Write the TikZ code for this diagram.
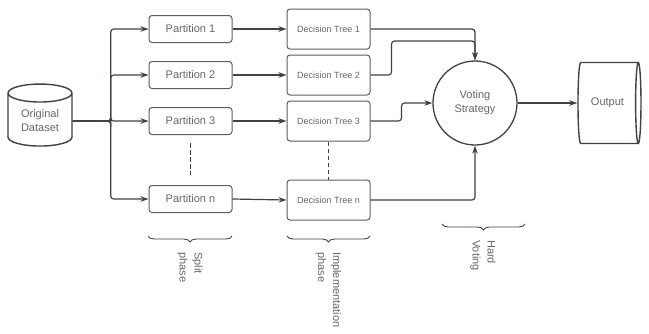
\documentclass[tikz,border=0pt]{standalone}
\usepackage{fontspec}
\setmainfont{Liberation Sans}
\usetikzlibrary{shapes.geometric,arrows.meta,positioning,decorations.pathreplacing}
\definecolor{linegray}{HTML}{3D414A}
\definecolor{txtgray}{HTML}{666666}

\begin{document}
\begin{tikzpicture}[
    x=1pt, y=-1pt,
    part/.style={rectangle, draw=linegray!85, rounded corners=3pt, line width=1pt,
                 minimum width=83pt, minimum height=27pt, inner sep=2pt,
                 font=\fontsize{11}{13}\selectfont, text=txtgray},
    tree/.style={part, minimum height=40pt, font=\fontsize{9}{11}\selectfont},
    store/.style={cylinder, draw=linegray, line width=1.4pt, aspect=0.45,
                  align=center, inner sep=1pt,
                  font=\fontsize{11}{14}\selectfont, text=txtgray},
    vote/.style={circle, draw=linegray, line width=1.3pt, minimum size=84pt,
                 align=center, inner sep=1pt,
                 font=\fontsize{11}{14}\selectfont, text=txtgray},
    arr/.style={-{Stealth[length=8pt,width=5.5pt]}, line width=1.2pt, linegray,
                rounded corners=3pt},
    link/.style={dash pattern=on 4.5pt off 2.5pt, line width=1.2pt, linegray},
    phase/.style={decorate, decoration={brace, amplitude=6pt, mirror},
                  line width=0.9pt, linegray},
    phaselbl/.style={rotate=-90, anchor=west, align=left, inner sep=0pt,
                     font=\fontsize{11}{15}\selectfont, text=txtgray},
  ]
  \useasboundingbox (0,0) rectangle (649,333);

  % === Input ===
  \node[store, shape border rotate=90, minimum width=64pt, minimum height=62pt]
    (data) at (40,121) {Original\\Dataset};

  % === Split phase ===
  \node[part] (p1) at (190.5,29)  {Partition 1};
  \node[part] (p2) at (190.5,75)  {Partition 2};
  \node[part] (p3) at (190.5,121) {Partition 3};
  \node[part] (pn) at (190.5,199) {Partition n};
  \draw[link] ([yshift=-8pt]p3.south) -- ([yshift=10pt]pn.north);

  % Dataset -> partitions
  \draw[arr] (data.east) -- ++(38,0) |- (p1.west);
  \draw[arr] (data.east) -- ++(38,0) |- (p2.west);
  \draw[arr] (data.east) -- ++(38,0) |- (p3.west);
  \draw[arr] (data.east) -- ++(38,0) |- (pn.west);

  % === Implementation phase ===
  \node[tree] (t1) at (328.5,29)  {Decision Tree 1};
  \node[tree] (t2) at (328.5,75)  {Decision Tree 2};
  \node[tree] (t3) at (328.5,121) {Decision Tree 3};
  \node[tree] (tn) at (328.5,200) {Decision Tree n};
  \draw[link] (t3.south) -- (tn.north);

  % Partitions -> trees
  \draw[arr] (p1.east) -- (t1.west);
  \draw[arr] (p2.east) -- (t2.west);
  \draw[arr] (p3.east) -- (t3.west);
  \draw[arr] (pn.east) -- (tn.west);

  % === Voting ===
  \node[vote] (vote) at (475,103) {Voting\\Strategy};

  % Trees -> voting
  \draw[arr] (t1.east) -| (vote.north);
  \draw[arr] (t2.east) -- ++(21,0) -- ++(0,-34) -| (vote.north);
  \draw[arr] (t3.east) -- ++(31,0) |- (vote.west);
  \draw[arr] (tn.east) -| (vote.south);

  % === Output ===
  \node[store, minimum width=81pt, minimum height=63pt] (out) at (607.5,103) {Output};
  \draw[arr] (vote.east) -- (out.west);

  % === Phase braces ===
  \draw[phase] (148,236) -- (232,236);
  \node[phaselbl] (splitlbl) at (190,252) {Split\\phase};
  \draw[phase] (287,236) -- (370,236);
  \node[phaselbl] (implbl) at (328.5,252) {Implementation\\phase};
  \draw[phase] (442,224) -- (525,224);
  \node[phaselbl] (hardlbl) at (483,240) {Hard\\Voting};

\end{tikzpicture}
\end{document}
